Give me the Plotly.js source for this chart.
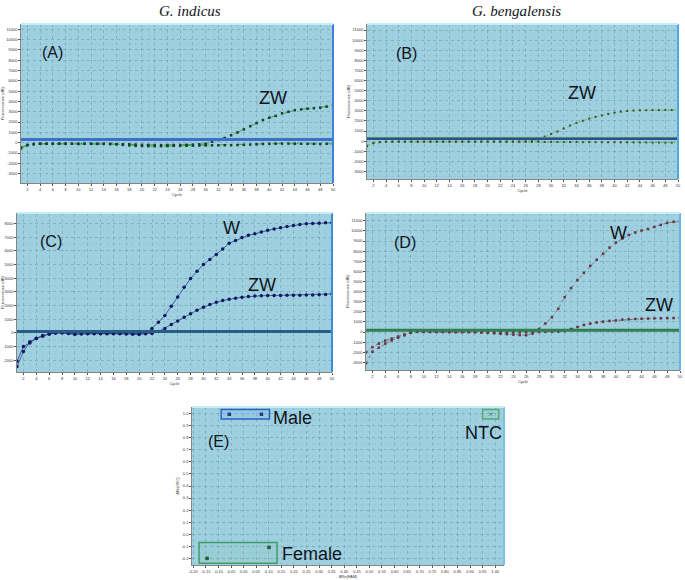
<!DOCTYPE html>
<html>
<head>
<meta charset="utf-8">
<script src="https://cdn.plot.ly/plotly-3.0.1.min.js"></script>
<style>html,body{margin:0;padding:0;background:#fff;}#chart{width:685px;height:580px;}</style>
</head>
<body>
<div id="chart"></div>
<script>
// ---------- DATA ----------
const cycles = Array.from({length: 50}, (_, i) => i + 1);
const cycleTicks = [2,4,6,8,10,12,14,16,18,20,22,24,26,28,30,32,34,36,38,40,42,44,46,48,50];

// (A) G. indicus, ZW assay
const A_zw = [-550,-250,-150,-100,-100,-100,-100,-90,-100,-110,-100,-100,-110,-100,-120,-130,-150,-150,-170,-200,-210,-220,-230,-220,-220,-210,-200,-180,-150,-100,100,260,450,720,1000,1300,1600,1900,2200,2420,2600,2850,3000,3150,3230,3300,3350,3400,3500,3650];
const A_neg = [-450,-200,-120,-80,-90,-100,-80,-90,-100,-100,-90,-100,-100,-110,-120,-150,-200,-250,-300,-320,-330,-340,-330,-320,-300,-300,-290,-280,-270,-260,-250,-250,-240,-230,-220,-200,-180,-150,-120,-100,-90,-80,-80,-90,-100,-100,-110,-120,-100,-100];
const A_threshold = 320;

// (B) G. bengalensis, ZW assay
const B_zw = [-500,-200,-100,-60,-50,-50,-50,-50,-50,-50,-50,-50,-50,-50,-50,-50,-50,-50,-50,-50,-50,-50,-50,-50,-40,-20,0,150,450,700,950,1250,1550,1800,2020,2230,2400,2550,2700,2820,2920,2990,3030,3050,3060,3070,3070,3080,3080,3080];
const B_neg = [-450,-200,-100,-70,-60,-60,-60,-60,-60,-60,-60,-60,-60,-60,-60,-60,-60,-60,-60,-60,-60,-60,-60,-60,-60,-60,-70,-70,-80,-80,-80,-90,-90,-90,-100,-100,-100,-110,-110,-110,-120,-120,-120,-130,-130,-140,-140,-150,-150,-150];
const B_threshold = 260;

// (C) G. indicus, W and ZW assays
const C_w = [-2450,-1350,-650,-380,-180,-70,0,20,-30,-120,-80,-60,-50,-50,-60,-50,-60,-80,-100,-120,-60,330,780,1280,1950,2630,3340,3980,4500,5000,5370,5730,6130,6550,6760,6980,7130,7240,7370,7500,7600,7680,7770,7850,7920,7980,8000,8020,8040,8050];
const C_zw = [-2070,-980,-730,-410,-240,-80,0,10,-20,-60,-40,-40,-40,-40,-40,-40,-40,-40,-40,-40,-40,-30,100,330,620,880,1150,1400,1650,1880,2080,2240,2370,2470,2540,2610,2660,2700,2720,2730,2740,2740,2750,2750,2760,2770,2780,2790,2800,2850];
const C_threshold = 100;

// (D) G. bengalensis, W and ZW assays
const D_w = [-3100,-1950,-1550,-1150,-830,-570,-330,-60,40,30,20,20,10,10,0,0,0,-10,-40,-80,-130,-170,-210,-260,-300,-320,-160,300,850,1450,2300,3450,4350,5150,5850,6550,7150,7750,8350,8850,9250,9600,9850,10050,10200,10400,10600,10800,10900,10950];
const D_zw = [-2000,-1500,-1150,-850,-650,-450,-250,-50,20,20,10,10,10,0,0,0,0,0,-10,-10,-20,-20,-30,-30,-30,-20,-10,0,20,30,40,80,300,500,700,830,950,1030,1100,1150,1220,1260,1290,1310,1330,1350,1360,1370,1380,1390];
const D_threshold = 165;

// (E) allelic discrimination
const E_male_x = [-0.057, 0.071];
const E_male_y = [0.995, 0.995];
const E_female_x = [-0.145, 0.101];
const E_female_y = [-0.200, -0.109];
const E_ntc_x = [0.982];
const E_ntc_y = [0.995];

// ---------- HELPERS ----------
const W = 685, H = 580;
const px = x => x / W;
const py = y => 1 - y / H;

function range(a, b, s) { const r = []; for (let v = a; v <= b + 1e-9; v += s) r.push(+v.toFixed(3)); return r; }

const gridCol = 'rgba(80,115,135,0.45)';
const minorCol = 'rgba(100,140,160,0.18)';
const tickFont = {family: 'Arial', size: 4, color: '#333'};

function xAxisQ(domain, anchor) {
  return {
    domain: domain, anchor: anchor, range: [1, 50],
    tickvals: cycleTicks, ticktext: cycleTicks.map(String),
    tickfont: tickFont, ticks: 'outside', ticklen: 2, tickcolor: '#555',
    showgrid: true, gridcolor: gridCol, griddash: 'dot', gridwidth: 0.6,
    minor: {tickvals: cycles, showgrid: true, gridcolor: minorCol, griddash: 'dot', gridwidth: 0.5},
    showline: true, linecolor: '#666', linewidth: 0.8, zeroline: false,
    title: {text: 'Cycle', font: {family: 'Arial', size: 4, color: '#333'}, standoff: 1}
  };
}
function yAxisQ(domain, anchor, r, lo, hi) {
  const tv = range(lo, hi, 1000);
  return {
    domain: domain, anchor: anchor, range: r,
    tickvals: tv, ticktext: tv.map(String),
    tickfont: tickFont, ticks: 'outside', ticklen: 2, tickcolor: '#555',
    showgrid: true, gridcolor: gridCol, griddash: 'dot', gridwidth: 0.6,
    minor: {dtick: 500, showgrid: true, gridcolor: minorCol, griddash: 'dot', gridwidth: 0.5},
    showline: true, linecolor: '#666', linewidth: 0.8, zeroline: false,
    title: {text: 'Fluorescence (dR)', font: {family: 'Arial', size: 4, color: '#333'}, standoff: 1}
  };
}

function series(x, y, xa, ya, lineStyle, markerStyle) {
  return {x: x, y: y, xaxis: xa, yaxis: ya, type: 'scatter', mode: 'lines+markers',
    line: lineStyle, marker: markerStyle, showlegend: false, hoverinfo: 'skip'};
}

const styleA = [{color: '#3aa548', width: 1, dash: 'dash'}, {color: '#1d3d2a', size: 2.5, symbol: 'square'}];
const styleB = [{color: '#6cbf4c', width: 1, dash: 'dot'}, {color: '#3e4d3e', size: 2, symbol: 'square'}];
const styleC = [{color: '#1c2a86', width: 0.7}, {color: '#101a5e', size: 3.5, symbol: 'circle'}];
const styleD = [{color: '#6b6068', width: 0.8, dash: 'dot'}, {color: '#6b3340', size: 2.5, symbol: 'square'}];

const traces = [
  series(cycles, A_neg, 'x', 'y', styleA[0], styleA[1]),
  series(cycles, A_zw, 'x', 'y', styleA[0], styleA[1]),
  series(cycles, B_neg, 'x2', 'y2', styleB[0], styleB[1]),
  series(cycles, B_zw, 'x2', 'y2', styleB[0], styleB[1]),
  series(cycles, C_zw, 'x3', 'y3', styleC[0], styleC[1]),
  series(cycles, C_w, 'x3', 'y3', styleC[0], styleC[1]),
  series(cycles, D_zw, 'x4', 'y4', styleD[0], styleD[1]),
  series(cycles, D_w, 'x4', 'y4', styleD[0], styleD[1]),
  {x: E_male_x, y: E_male_y, xaxis: 'x5', yaxis: 'y5', type: 'scatter', mode: 'markers',
   marker: {color: '#16246a', size: 3.5, symbol: 'square'}, showlegend: false, hoverinfo: 'skip'},
  {x: E_female_x, y: E_female_y, xaxis: 'x5', yaxis: 'y5', type: 'scatter', mode: 'markers',
   marker: {color: '#17502a', size: 3.5, symbol: 'square'}, showlegend: false, hoverinfo: 'skip'},
  {x: E_ntc_x, y: E_ntc_y, xaxis: 'x5', yaxis: 'y5', type: 'scatter', mode: 'markers',
   marker: {color: '#3d7a4a', size: 3, symbol: 'x-thin', line: {color: '#3d7a4a', width: 1}}, showlegend: false, hoverinfo: 'skip'}
];

// domains (from pixel layout)
const dA = {x: [px(21), px(333)], y: [py(183), py(24)]};
const dB = {x: [px(367), px(678)], y: [py(179), py(24)]};
const dC = {x: [px(17), px(332)], y: [py(372), py(213)]};
const dD = {x: [px(366), px(680)], y: [py(370), py(213)]};
const dE = {x: [px(192), px(504)], y: [py(565), py(407)]};

const shapes = [];
function thresh(xa, ya, val, color, width) {
  shapes.push({type: 'line', xref: xa + ' domain', yref: ya, x0: 0, x1: 1, y0: val, y1: val,
    line: {color: color, width: width}, layer: 'above'});
}
function edges(xa, ya, rightCol) {
  shapes.push({type: 'line', xref: xa + ' domain', yref: ya + ' domain', x0: 1, x1: 1, y0: 0, y1: 1,
    line: {color: rightCol, width: 2}});
  shapes.push({type: 'line', xref: xa + ' domain', yref: ya + ' domain', x0: 0, x1: 1, y0: 1, y1: 1,
    line: {color: '#c4eef6', width: 2}});
}
thresh('x', 'y', A_threshold, '#3d6fcc', 3);
thresh('x2', 'y2', B_threshold, '#2b4f92', 3);
thresh('x2', 'y2', B_threshold + 120, 'rgba(120,200,80,0.8)', 0.8);
thresh('x3', 'y3', C_threshold, '#2a5c88', 3);
thresh('x4', 'y4', D_threshold, '#2f7f4f', 3);
edges('x', 'y', '#3f83d8');
edges('x2', 'y2', '#4ea8e4');
edges('x3', 'y3', '#3b8fd8');
edges('x4', 'y4', '#6ab4e4');
edges('x5', 'y5', '#7cc0e4');

// E group boxes derived from the data points
function box(xs, ys, color, fill) {
  const padX = 0.032, padY = 0.04;
  shapes.push({type: 'rect', xref: 'x5', yref: 'y5',
    x0: Math.min(...xs) - padX, x1: Math.max(...xs) + padX,
    y0: Math.min(...ys) - padY, y1: Math.max(...ys) + padY,
    line: {color: color, width: 1.5}, fillcolor: fill, layer: 'above'});
}
box(E_male_x, E_male_y, '#2a63c4', 'rgba(120,170,230,0.2)');
box(E_female_x, E_female_y, '#3d9f68', 'rgba(120,200,150,0.12)');
box(E_ntc_x, E_ntc_y, '#5aa870', 'rgba(120,200,150,0.12)');

function label(text, x, y, size, family, extra) {
  return Object.assign({text: text, xref: 'paper', yref: 'paper', x: px(x), y: py(y),
    xanchor: 'center', yanchor: 'middle', showarrow: false,
    font: {family: family || 'Arial', size: size, color: '#10141c'}}, extra || {});
}

const annotations = [
  label('<i>G. indicus</i>', 190, 11, 15, 'Liberation Serif'),
  label('<i>G. bengalensis</i>', 516, 11, 15, 'Liberation Serif'),
  label('(A)', 52.5, 52.5, 16),
  label('ZW', 273, 98.5, 18),
  label('(B)', 406, 53, 16),
  label('ZW', 581.5, 92.5, 18),
  label('(C)', 51, 241.5, 16),
  label('W', 231, 228, 18),
  label('ZW', 262, 285, 18),
  label('(D)', 404.5, 242.5, 16),
  label('W', 618, 232.5, 18),
  label('ZW', 658.5, 305, 18),
  label('(E)', 218, 441.5, 16),
  label('Male', 292.5, 418, 18),
  label('NTC', 483, 432.5, 18),
  label('Female', 312, 553.5, 18)
];

const exTicks = range(-0.2, 1.0, 0.05);
const eyTicks = range(-0.2, 1.0, 0.1);

const layout = {
  width: W, height: H,
  margin: {l: 0, r: 0, t: 0, b: 0},
  paper_bgcolor: '#ffffff', plot_bgcolor: '#9fd0e0',
  showlegend: false,
  xaxis: xAxisQ(dA.x, 'y'),
  yaxis: yAxisQ(dA.y, 'x', [-3900, 11500], -3000, 11000),
  xaxis2: xAxisQ(dB.x, 'y2'),
  yaxis2: yAxisQ(dB.y, 'x2', [-3750, 11600], -3000, 11000),
  xaxis3: xAxisQ(dC.x, 'y3'),
  yaxis3: yAxisQ(dC.y, 'x3', [-2850, 8760], -2000, 8000),
  xaxis4: xAxisQ(dD.x, 'y4'),
  yaxis4: yAxisQ(dD.y, 'x4', [-3760, 11780], -3000, 11000),
  xaxis5: {domain: dE.x, anchor: 'y5', range: [-0.205, 1.035],
    tickvals: exTicks, ticktext: exTicks.map(v => v.toFixed(2)),
    tickfont: tickFont, ticks: 'outside', ticklen: 2, tickcolor: '#555',
    showgrid: true, gridcolor: gridCol, griddash: 'dot', gridwidth: 0.6,
    minor: {dtick: 0.025, showgrid: true, gridcolor: minorCol, griddash: 'dot', gridwidth: 0.5},
    showline: true, linecolor: '#666', linewidth: 0.8, zeroline: false,
    title: {text: 'ΔRn(FAM)', font: {family: 'Arial', size: 4, color: '#333'}, standoff: 1}},
  yaxis5: {domain: dE.y, anchor: 'x5', range: [-0.255, 1.055],
    tickvals: eyTicks, ticktext: eyTicks.map(v => v.toFixed(1)),
    tickfont: tickFont, ticks: 'outside', ticklen: 2, tickcolor: '#555',
    showgrid: true, gridcolor: gridCol, griddash: 'dot', gridwidth: 0.6,
    minor: {dtick: 0.05, showgrid: true, gridcolor: minorCol, griddash: 'dot', gridwidth: 0.5},
    showline: true, linecolor: '#666', linewidth: 0.8, zeroline: false,
    title: {text: 'ΔRn(VIC)', font: {family: 'Arial', size: 4, color: '#333'}, standoff: 1}},
  shapes: shapes,
  annotations: annotations
};

Plotly.newPlot('chart', traces, layout, {displayModeBar: false, staticPlot: true});
</script>
</body>
</html>
